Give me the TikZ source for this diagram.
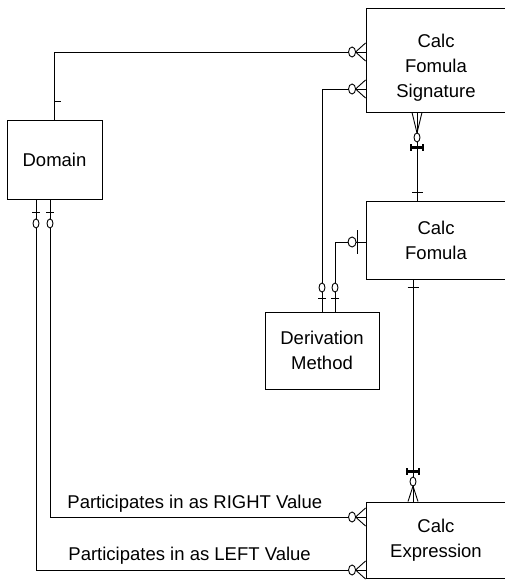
\documentclass[tikz,border=0pt]{standalone}
\usepackage{fontspec}
\setmainfont{Liberation Sans}
\begin{document}
\begin{tikzpicture}[x=1pt, y=-1pt, line width=0.9pt,
  entity/.style={draw, rectangle, inner sep=2pt, align=center,
    font=\fontsize{18.5}{25}\selectfont},
  boxtext/.style={align=center, inner sep=0pt, font=\fontsize{18.5}{25}\selectfont},
  lbl/.style={font=\fontsize{18.5}{22}\selectfont, inner sep=0pt, anchor=base west},
  % zero or many (crow's foot with ring); local +x points into the entity
  pics/zeromany/.style={code={
    \draw (-10,0) -- (0,9) (-10,0) -- (0,-9);
    \draw[fill=white] (-13.5,0) ellipse [x radius=3.5, y radius=5];}},
  % crow's foot, ring and heavy bar; #1 = distance of the ring from the entity
  pics/crowbar/.style={code={
    \draw (-#1+4.5,0) -- (0,5) (-#1+4.5,0) -- (0,-5);
    \draw[fill=white] (-#1,0) ellipse [x radius=4.5, y radius=3];
    \draw[line width=3pt] (-#1-10,-6) -- (-#1-10,6);
    \draw[line width=1.3pt] (-#1-13.5,-6) -- (-#1-6.5,-6)
                            (-#1-13.5,6) -- (-#1-6.5,6);}},
  % zero or one: bar then ring
  pics/zeroone/.style={code={
    \draw (-13,-4) -- (-13,4);
    \draw[fill=white] (-24,0) ellipse [x radius=4.5, y radius=3];}},
  % zero or one with a tall bar next to the entity
  pics/zeroonebar/.style={code={
    \draw (-8,-12) -- (-8,12);
    \draw[fill=white] (-13.5,0) ellipse [x radius=4, y radius=5];}},
  % exactly one
  pics/onetick/.style={code={\draw (-8,-5.5) -- (-8,5.5);}}
]
\useasboundingbox (0,0) rectangle (504,581);
\fill[white] (0,0) rectangle (504,581);

% entities
\node[entity, minimum width=95pt, minimum height=79pt] (dom) at (54.5,159.5) {Domain};
\node[entity, minimum width=140pt, minimum height=104pt,
  label={[name=cfstext, boxtext, yshift=-7.5pt]center:{Calc\\Fomula\\Signature}}]
  (cfs) at (436,60) {};
\node[entity, minimum width=140pt, minimum height=78pt] (cf) at (436,240) {Calc\\Fomula};
\node[entity, minimum width=114pt, minimum height=77pt] (dm) at (322,350.5) {Derivation\\Method};
\node[entity, minimum width=140pt, minimum height=76pt] (ce) at (436,540) {Calc\\Expression};

% relationships
\draw (dom.north) |- ([yshift=8pt]cfs.west);
\draw (dom.north) ++(0,-18) -- ++(6.5,0);
\pic at ([yshift=8pt]cfs.west) {zeromany};

\draw (dm.north) |- ([yshift=-29pt]cfs.west);
\pic at ([yshift=-29pt]cfs.west) {zeromany};
\pic[rotate=-90] at (dm.north) {zeroone};

\draw ([xshift=13pt]dm.north) |- ([yshift=-2pt]cf.west);
\pic at ([yshift=-2pt]cf.west) {zeroonebar};
\pic[rotate=-90] at ([xshift=13pt]dm.north) {zeroone};

\draw ([xshift=-19pt]cfs.south) -- ([xshift=-19pt]cf.north);
\pic[rotate=90] at ([xshift=-19pt]cfs.south) {crowbar=25};
\pic[rotate=-90] at ([xshift=-19pt]cf.north) {onetick};

\draw ([xshift=-23pt]cf.south) -- ([xshift=-23pt]ce.north);
\pic[rotate=90] at ([xshift=-23pt]cf.south) {onetick};
\pic[rotate=-90] at ([xshift=-23pt]ce.north) {crowbar=20};

\draw ([xshift=-4.5pt]dom.south) |- ([yshift=23pt]ce.west);
\pic[rotate=90] at ([xshift=-4.5pt]dom.south) {zeroone};
\pic at ([yshift=23pt]ce.west) {zeromany};

\draw ([xshift=-18.5pt]dom.south) |- ([yshift=-30pt]ce.west);
\pic[rotate=90] at ([xshift=-18.5pt]dom.south) {zeroone};
\pic at ([yshift=-30pt]ce.west) {zeromany};

% role names
\node[lbl] (rightrole) at (67,508) {Participates in as RIGHT Value};
\node[lbl] (leftrole) at (68,560) {Participates in as LEFT Value};
\end{tikzpicture}
\end{document}
